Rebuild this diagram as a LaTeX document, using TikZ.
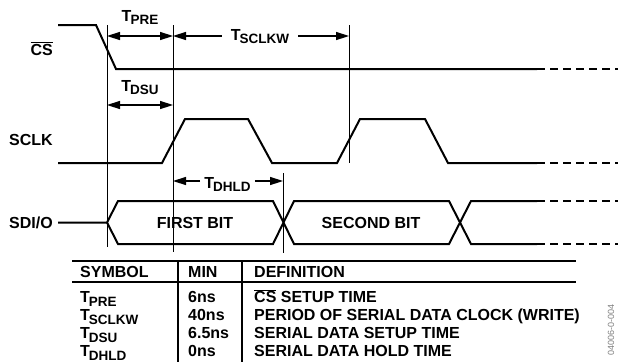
\documentclass[tikz,border=0pt]{standalone}
\usepackage{fontspec}
\setmainfont{Liberation Sans}
\usetikzlibrary{arrows.meta}
\newcommand{\tsym}[1]{T\kern-1pt\raisebox{-3.5pt}{\fontsize{13.5}{13.5}\selectfont #1}}
\begin{document}
\begin{tikzpicture}[x=1pt,y=-1pt,
	every node/.style={font=\fontsize{16}{18}\bfseries\selectfont,inner sep=0pt},
	wave/.style={line width=2pt},
	tail/.style={line width=2pt,dash pattern=on 8pt off 5pt},
	guide/.style={line width=0.8pt},
	dim/.style={line width=1.5pt,{Triangle[length=13pt,width=8pt]}-{Triangle[length=13pt,width=8pt]}},
	half/.style={line width=1.5pt,-{Triangle[length=13pt,width=8pt]}},
	rule/.style={line width=2pt}]
\clip (0,0) rectangle (618,362);
% guide lines
\coordinate (g1) at (107,25);
\coordinate (g2) at (173,25);
\coordinate (g3) at (349,25);
\draw[guide] (g1) -- (107,247);
\draw[guide] (g2) -- (173,252);
\draw[guide] (g3) -- (349,163);
\draw[guide] (283,173) -- (283,253);
% signal names
\node[anchor=base east] (cs) at (53,55) {$\overline{\mbox{\bfseries CS}}$};
\node[anchor=base east] (sclk) at (53,145) {SCLK};
\node[anchor=base east] (sdio) at (53,228) {SDI/O};
% waveforms
\draw[wave] (58,25) -- (96,25) -- (116,69) -- (537,69);
\draw[tail] (537,69) -- (618,69);
\draw[wave] (58,163) -- (162,163) -- (185,119) -- (248,119) -- (272,163) -- (337,163)
	-- (360,119) -- (425,119) -- (448,163) -- (537,163);
\draw[tail] (537,163) -- (618,163);
\draw[wave] (58,222.5) -- (107,222.5) -- (118,201) -- (273,201) -- (294,244) -- (449,244) -- (471,201) -- (537,201);
\draw[wave] (107,222.5) -- (118,244) -- (273,244) -- (294,201) -- (449,201) -- (471,244) -- (537,244);
\draw[tail] (537,201) -- (618,201);
\draw[tail] (537,244) -- (618,244);
\node[anchor=base] (bit1) at (195,228) {FIRST BIT};
\node[anchor=base] (bit2) at (371,228) {SECOND BIT};
% timing arrows
\node[anchor=base] (pre) at (140,21) {\tsym{PRE}};
\draw[dim] (107,36) -- (173,36);
\node[anchor=base] (dsu) at (140,91) {\tsym{DSU}};
\draw[dim] (107,105) -- (173,105);
\coordinate (w1) at (173,36);
\coordinate (w2) at (349,36);
\node[anchor=base,inner xsep=9pt] (sclkw) at (260,40) {\tsym{SCLKW}};
\draw[half] (sclkw.west |- w1) -- (w1);
\draw[half] (sclkw.east |- w2) -- (w2);
\coordinate (h1) at (173,181);
\coordinate (h2) at (283,181);
\node[anchor=base,inner xsep=4pt] (dhld) at (227.5,188) {\tsym{DHLD}};
\draw[half] (dhld.west |- h1) -- (h1);
\draw[half] (dhld.east |- h2) -- (h2);
% table
\draw[rule] (72,261) -- (576,261);
\draw[rule] (72,282) -- (576,282);
\draw[rule] (178,261) -- (178,362);
\draw[rule] (242,261) -- (242,362);
\node[anchor=base west] (hsym) at (80,277.5) {SYMBOL};
\node[anchor=base west] (hmin) at (188,277.5) {MIN};
\node[anchor=base west] (hdef) at (254,277.5) {DEFINITION};
\node[anchor=base west] (s1) at (80,302.5) {\tsym{PRE}};
\node[anchor=base west] (m1) at (188,302.5) {6ns};
\node[anchor=base west] (d1) at (254,302.5) {$\overline{\mbox{\bfseries CS}}$ SETUP TIME};
\node[anchor=base west] (s2) at (80,320.5) {\tsym{SCLKW}};
\node[anchor=base west] (m2) at (188,320.5) {40ns};
\node[anchor=base west] (d2) at (254,320.5) {PERIOD OF SERIAL DATA CLOCK (WRITE)};
\node[anchor=base west] (s3) at (80,338.5) {\tsym{DSU}};
\node[anchor=base west] (m3) at (188,338.5) {6.5ns};
\node[anchor=base west] (d3) at (254,338.5) {SERIAL DATA SETUP TIME};
\node[anchor=base west] (s4) at (80,356.5) {\tsym{DHLD}};
\node[anchor=base west] (m4) at (188,356.5) {0ns};
\node[anchor=base west] (d4) at (254,356.5) {SERIAL DATA HOLD TIME};
\node[rotate=90,anchor=east,font=\fontsize{9}{9}\selectfont,text=gray] (code) at (611,304) {04006-0-004};
\end{tikzpicture}
\end{document}
